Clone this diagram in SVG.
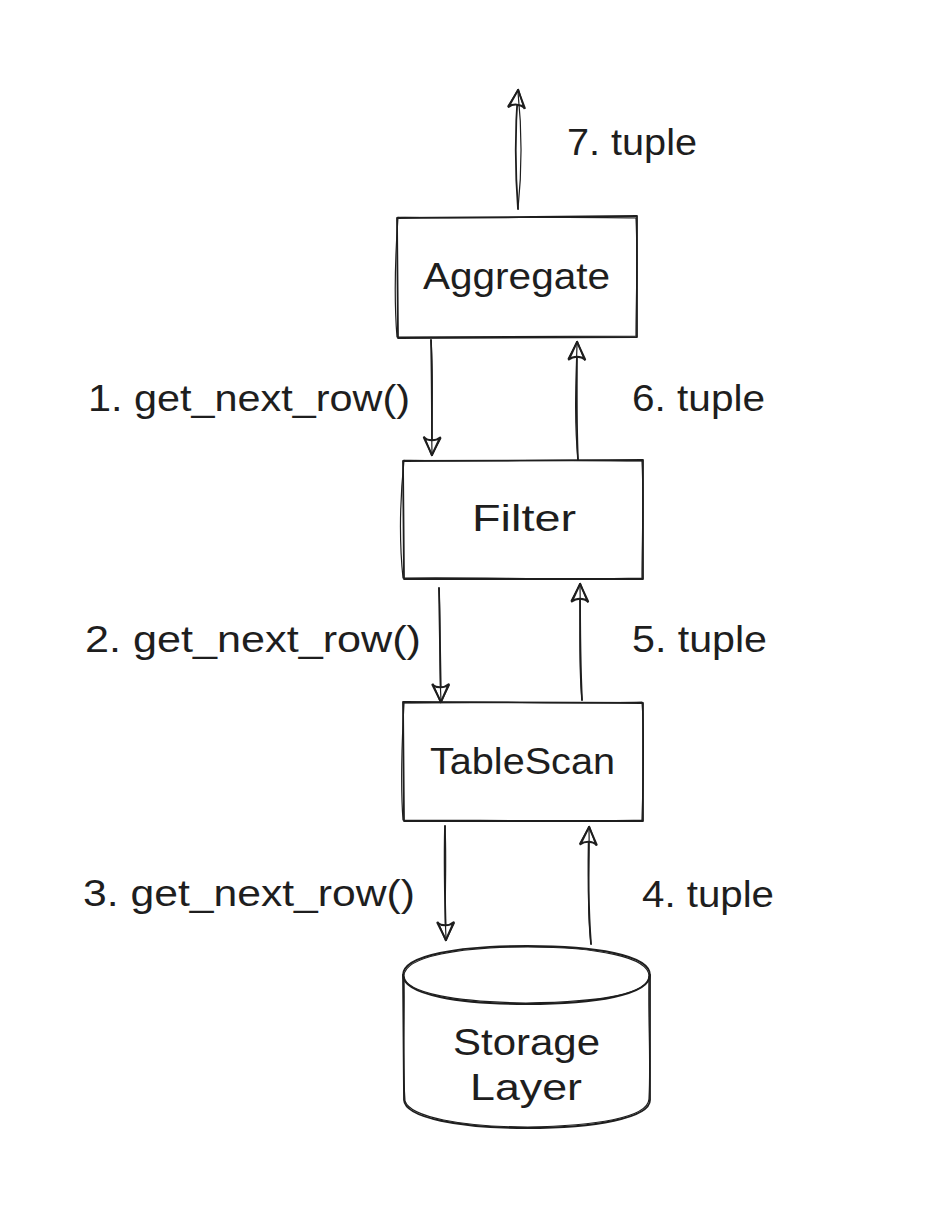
<svg xmlns="http://www.w3.org/2000/svg" width="952" height="1214" viewBox="0 0 952 1214">
  <defs>
    <marker id="ah" markerUnits="userSpaceOnUse" markerWidth="30" markerHeight="30" refX="0" refY="0" viewBox="-20 -12 24 24" orient="auto" overflow="visible">
      <path d="M-14,-6.5 L0,0 L-14,6.5 C-11,3 -11,-3 -14,-6.5 Z" fill="#ffffff" stroke="#1e1e1e" stroke-width="1.6" stroke-linecap="round" stroke-linejoin="round"/>
      <path d="M-13.5,-7 L0.5,0.3 L-14.5,6" fill="none" stroke="#1e1e1e" stroke-width="1.1" stroke-linecap="round" stroke-linejoin="round"/>
    </marker>
  </defs>
  <style>
    .s { fill: none; stroke: #1e1e1e; stroke-width: 1.8; stroke-linecap: round; stroke-linejoin: round; }
    .s2 { fill: none; stroke: #1e1e1e; stroke-width: 1.2; stroke-linecap: round; stroke-linejoin: round; }
    .t { font-family: "Liberation Sans", "DejaVu Sans", sans-serif; font-size: 36px; fill: #1e1e1e; }
  </style>
  <rect width="952" height="1214" fill="#ffffff"/>

  <g id="connectors">
    <!-- 7 -->
    <path class="s" d="M518 209 C515 170 515 130 518 90" marker-end="url(#ah)"/>
    <path class="s2" d="M518 209 C522 170 522 130 518 92"/>
    <!-- 1 -->
    <path class="s" d="M431 340 C432 380 432 420 432 455" marker-end="url(#ah)"/>
    <path class="s2" d="M431 340 C434 380 431 420 432 452"/>
    <!-- 6 -->
    <path class="s" d="M578 460 C576 420 577 380 577 342" marker-end="url(#ah)"/>
    <path class="s2" d="M578 460 C574 420 576 380 577 345"/>
    <!-- 2 -->
    <path class="s" d="M439 588 C440 625 440 665 441 702" marker-end="url(#ah)"/>
    <path class="s2" d="M439 588 C441 625 439 665 441 700"/>
    <!-- 5 -->
    <path class="s" d="M582 700 C580 660 580 620 580 584" marker-end="url(#ah)"/>
    <path class="s2" d="M582 700 C578 660 581 620 580 587"/>
    <!-- 3 -->
    <path class="s" d="M445 826 C444 865 445 905 446 940" marker-end="url(#ah)"/>
    <path class="s2" d="M445 826 C447 865 444 905 446 937"/>
    <!-- 4 -->
    <path class="s" d="M591 944 C588 905 588 865 589 827" marker-end="url(#ah)"/>
    <path class="s2" d="M591 944 C586 905 590 865 589 830"/>
  </g>

  <g id="node-aggregate">
    <path class="s" d="M397 218 L637 216 L637 337 L398 338 Z"/>
    <path class="s2" d="M398 217 C480 219 560 216 636 218 C638 260 636 300 636 336 C560 336 480 337 397 337 C394 300 395 260 398 217"/>
    <text class="t" x="423" y="289" textLength="187" lengthAdjust="spacingAndGlyphs">Aggregate</text>
  </g>

  <g id="node-filter">
    <path class="s" d="M403 461 L643 460 L643 579 L404 579 Z"/>
    <path class="s2" d="M404 460 C480 462 560 459 642 461 C644 500 642 540 642 578 C560 580 480 577 403 578 C399 540 400 500 404 460"/>
    <text class="t" x="472" y="531" textLength="104" lengthAdjust="spacingAndGlyphs">Filter</text>
  </g>

  <g id="node-tablescan">
    <path class="s" d="M403 702 L643 703 L643 821 L404 821 Z"/>
    <path class="s2" d="M404 703 C480 701 560 704 642 702 C645 740 643 780 642 820 C560 822 480 820 403 820 C400 780 402 740 404 703"/>
    <text class="t" x="430" y="774" textLength="185" lengthAdjust="spacingAndGlyphs">TableScan</text>
  </g>

  <g id="node-storage">
    <path class="s" d="M403 975 C403 955 460 946 527 946 C595 946 650 955 650 975 C650 995 595 1004 527 1004 C460 1004 403 995 403 975 Z"/>
    <path class="s2" d="M404 976 C404 956 462 947 528 947 C596 947 649 957 649 976 C648 996 594 1002 526 1003 C460 1002 405 994 404 976"/>
    <path class="s" d="M403 975 L404 1100 C405 1118 460 1128 527 1128 C595 1128 650 1118 650 1100 L650 975"/>
    <path class="s2" d="M404 977 C405 1020 402 1060 405 1101 C410 1117 462 1127 528 1127 C594 1126 648 1118 649 1099 C651 1060 648 1020 649 976"/>
    <text class="t" x="453" y="1055" textLength="147" lengthAdjust="spacingAndGlyphs">Storage</text>
    <text class="t" x="470" y="1100" textLength="112" lengthAdjust="spacingAndGlyphs">Layer</text>
  </g>

  <g id="labels">
    <text class="t" x="567" y="155" textLength="130" lengthAdjust="spacingAndGlyphs">7. tuple</text>
    <text class="t" x="88" y="411" textLength="322" lengthAdjust="spacingAndGlyphs">1. get_next_row()</text>
    <text class="t" x="632" y="411" textLength="133" lengthAdjust="spacingAndGlyphs">6. tuple</text>
    <text class="t" x="85" y="652" textLength="336" lengthAdjust="spacingAndGlyphs">2. get_next_row()</text>
    <text class="t" x="632" y="652" textLength="135" lengthAdjust="spacingAndGlyphs">5. tuple</text>
    <text class="t" x="83" y="906" textLength="332" lengthAdjust="spacingAndGlyphs">3. get_next_row()</text>
    <text class="t" x="642" y="907" textLength="132" lengthAdjust="spacingAndGlyphs">4. tuple</text>
  </g>
</svg>
